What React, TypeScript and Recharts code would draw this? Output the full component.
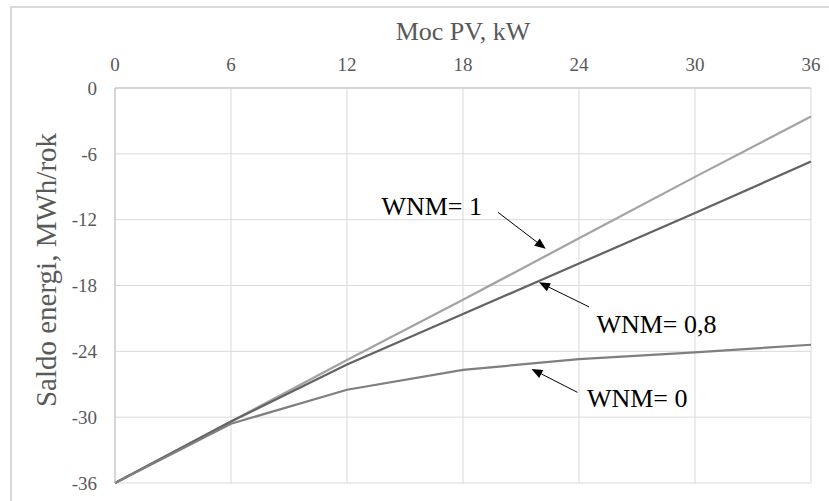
import React from 'react';
import { LineChart, Line, XAxis, YAxis, CartesianGrid, ReferenceLine, ReferenceDot } from 'recharts';

// Moc PV, kW
const POWER_KW = [0, 6, 12, 18, 24, 30, 36];
// Saldo energi, MWh/rok for each WNM variant
const WNM_1 = [-36, -30.4, -24.8, -19.3, -13.7, -8.1, -2.6];
const WNM_08 = [-36, -30.4, -25.2, -20.6, -16.0, -11.4, -6.7];
const WNM_0 = [-36, -30.6, -27.5, -25.7, -24.7, -24.1, -23.4];

const X_TICKS = [0, 6, 12, 18, 24, 30, 36];
const Y_TICKS = [-36, -30, -24, -18, -12, -6, 0];

// annotation labels (data units): text, text anchor, arrow tail, arrow head
const NOTE_TEXT = ['WNM= 1', 'WNM= 0,8', 'WNM= 0'];
const NOTE_AT = [[13.78, -11.53], [24.9, -22.32], [24.41, -29.07]];
const NOTE_FROM = [[19.81, -11.33], [24.52, -19.95], [23.92, -27.74]];
const NOTE_TO = [[22.28, -14.66], [21.93, -17.71], [21.54, -25.6]];

const data = POWER_KW.map((kw, i) => ({
  kw,
  wnm1: WNM_1[i],
  wnm08: WNM_08[i],
  wnm0: WNM_0[i],
}));

const FONT = '"Liberation Serif", "Times New Roman", serif';

const Arrow = (props: any) => {
  const { x1, y1, x2, y2 } = props;
  const ang = Math.atan2(y2 - y1, x2 - x1);
  const len = 11;
  const half = 4.5;
  const bx = x2 - len * Math.cos(ang);
  const by = y2 - len * Math.sin(ang);
  const px = -Math.sin(ang) * half;
  const py = Math.cos(ang) * half;
  return (
    <g>
      <line x1={x1} y1={y1} x2={bx} y2={by} stroke="#000" strokeWidth={1} />
      <polygon points={`${x2},${y2} ${bx + px},${by + py} ${bx - px},${by - py}`} fill="#000" />
    </g>
  );
};

const noteText = (text: string) => (props: any) => (
  <text x={props.cx} y={props.cy} fontFamily={FONT} fontSize={26} fill="#000">
    {text}
  </text>
);

export default function App() {
  return (
    <div style={{ position: 'absolute', left: 0, top: 0, width: 829, height: 501, background: '#fff', overflow: 'hidden' }}>
      <div
        style={{
          position: 'absolute',
          left: 10,
          top: 6,
          width: 900,
          height: 600,
          borderLeft: '2px solid #d9d9d9',
          borderTop: '2px solid #d9d9d9',
        }}
      />
      <LineChart
        width={829}
        height={501}
        data={data}
        margin={{ top: 0, right: 18, bottom: 18, left: 0 }}
        style={{ position: 'absolute', left: 0, top: 0 }}
      >
        <CartesianGrid stroke="#d9d9d9" strokeWidth={1} />
        <XAxis
          dataKey="kw"
          type="number"
          domain={[0, 36]}
          ticks={X_TICKS}
          orientation="top"
          height={88}
          axisLine={{ stroke: '#bfbfbf' }}
          tickLine={false}
          tickMargin={11}
          tick={{ fill: '#595959', fontSize: 19, fontFamily: FONT }}
        />
        <YAxis
          type="number"
          domain={[-36, 0]}
          ticks={Y_TICKS}
          width={115}
          axisLine={{ stroke: '#bfbfbf' }}
          tickLine={false}
          tickMargin={12}
          tick={{ fill: '#595959', fontSize: 19, fontFamily: FONT }}
        />
        <Line dataKey="wnm1" stroke="#a3a3a3" strokeWidth={2.25} dot={false} isAnimationActive={false} />
        <Line dataKey="wnm08" stroke="#636363" strokeWidth={2.25} dot={false} isAnimationActive={false} />
        <Line dataKey="wnm0" stroke="#7f7f7f" strokeWidth={2.25} dot={false} isAnimationActive={false} />
        {NOTE_TEXT.map((t, i) => (
          <ReferenceLine
            key={`a-${i}`}
            segment={[
              { x: NOTE_FROM[i][0], y: NOTE_FROM[i][1] },
              { x: NOTE_TO[i][0], y: NOTE_TO[i][1] },
            ]}
            shape={Arrow}
          />
        ))}
        {NOTE_TEXT.map((t, i) => (
          <ReferenceDot key={`t-${i}`} x={NOTE_AT[i][0]} y={NOTE_AT[i][1]} r={0} shape={noteText(t)} />
        ))}
      </LineChart>
      <svg width={829} height={501} style={{ position: 'absolute', left: 0, top: 0, pointerEvents: 'none' }}>
        <text x={463} y={40} textAnchor="middle" fontFamily={FONT} fontSize={26} fill="#595959">
          Moc PV, kW
        </text>
        <text
          x={0}
          y={0}
          transform="translate(56 270) rotate(-90)"
          textAnchor="middle"
          fontFamily={FONT}
          fontSize={29}
          fill="#595959"
        >
          Saldo energi, MWh/rok
        </text>
      </svg>
    </div>
  );
}
